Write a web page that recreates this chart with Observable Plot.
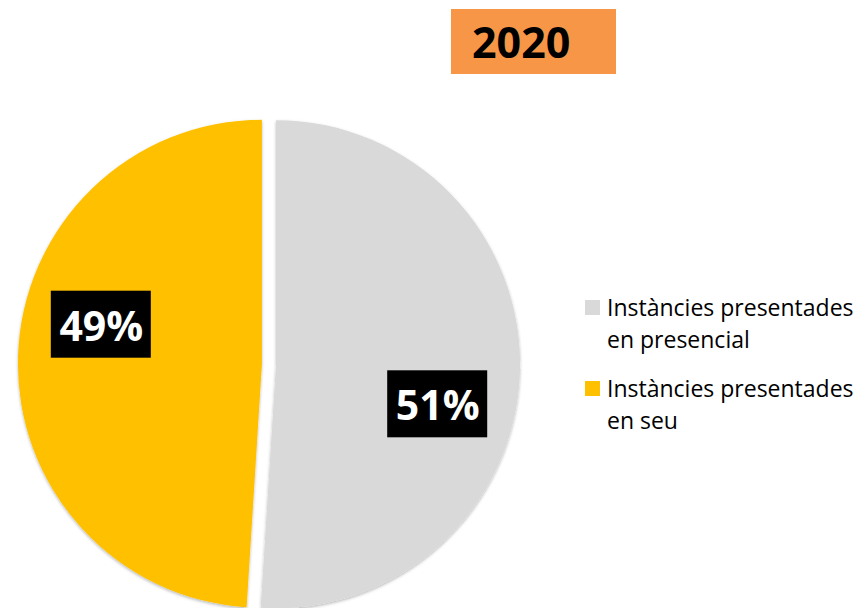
<!DOCTYPE html>
<html>
<head>
<meta charset="utf-8">
<script src="https://cdn.jsdelivr.net/npm/d3@7"></script>
<script src="https://cdn.jsdelivr.net/npm/@observablehq/plot@0.6"></script>
<style>
html, body { margin: 0; padding: 0; background: #fff; }
#wrap { position: relative; width: 856px; height: 608px; overflow: hidden; font-family: "Open Sans", sans-serif; }
#title { position: absolute; left: 451px; top: 9px; width: 165px; height: 65px; background: #f79646;
  box-sizing: border-box; padding-left: 21px; font-weight: 700; font-size: 43px; line-height: 65px; color: #000; z-index: 2; }
</style>
</head>
<body>
<div id="wrap"><div id="title"></div></div>
<script>
// ---- data ----
const title = "2020";
const categories = ["Instàncies presentades en presencial", "Instàncies presentades en seu"];
const values = [51, 49];
const labels = ["51%", "49%"];
const colors = ["#d9d9d9", "#ffc000"];

// ---- styling constants ----
const explode = 0.029;     // slice offset (data units, radius = 1)
const labelRadius = 0.68;  // label distance from centre
const labelRotate = 12 * Math.PI / 180; // label rotation from slice bisector
const boxW = 100, boxH = 67;

const data = categories.map((c, i) => ({category: c, value: values[i], label: labels[i]}));
const arcs = d3.pie().value(d => d.value).sort(null)(data);
arcs.forEach(a => {
  const mid = (a.startAngle + a.endAngle) / 2;
  a.mid = mid;
  a.data.lx = explode * Math.sin(mid) + labelRadius * Math.sin(mid + labelRotate);
  a.data.ly = explode * Math.cos(mid) + labelRadius * Math.cos(mid + labelRotate);
});

const colorScale = Plot.scale({color: {type: "ordinal", domain: categories, range: colors}});

function pieMark(index, scales) {
  const cx = scales.x(0), cy = scales.y(0), r = Math.abs(scales.x(1) - scales.x(0));
  const color = scales.color ?? colorScale.apply;
  const g = d3.create("svg:g");
  const f = g.append("defs").append("filter").attr("id", "sh")
    .attr("x", "-10%").attr("y", "-10%").attr("width", "120%").attr("height", "120%");
  f.append("feDropShadow").attr("dx", 0).attr("dy", 1.5).attr("stdDeviation", 1.5)
    .attr("flood-color", "#000").attr("flood-opacity", 0.28);
  const arc = d3.arc().innerRadius(0).outerRadius(r);
  for (const a of arcs) {
    const dx = explode * r * Math.sin(a.mid), dy = -explode * r * Math.cos(a.mid);
    g.append("path")
      .attr("transform", `translate(${cx + dx},${cy + dy})`)
      .attr("d", arc(a))
      .attr("fill", color(a.data.category))
      .attr("filter", "url(#sh)");
  }
  return g.node();
}

function boxMark(index, scales) {
  const g = d3.create("svg:g");
  for (const d of data) {
    g.append("rect")
      .attr("x", scales.x(d.lx) - boxW / 2).attr("y", scales.y(d.ly) - boxH / 2)
      .attr("width", boxW).attr("height", boxH).attr("fill", "#000");
  }
  return g.node();
}

function wrap(text, maxChars) {
  const words = text.split(" "), lines = [];
  let cur = "";
  for (const w of words) {
    const t = cur ? cur + " " + w : w;
    if (t.length > maxChars && cur) { lines.push(cur); cur = w; } else cur = t;
  }
  if (cur) lines.push(cur);
  return lines;
}

function legendMark(index, scales) {
  const color = scales.color ?? colorScale.apply;
  const g = d3.create("svg:g")
    .attr("font-family", "'Open Sans', sans-serif")
    .attr("font-size", 23)
    .attr("text-anchor", "start");
  categories.forEach((c, i) => {
    const y0 = 300 + i * 81;
    g.append("rect").attr("x", 585).attr("y", y0).attr("width", 15).attr("height", 15).attr("fill", color(c));
    wrap(c, 22).forEach((line, j) => {
      g.append("text").attr("x", 607).attr("y", y0 + 16 + j * 32)
        .attr("text-anchor", "start").attr("fill", "#000").text(line);
    });
  });
  return g.node();
}

document.getElementById("title").textContent = title;

const chart = Plot.plot({
  width: 856,
  height: 608,
  marginLeft: 25, marginRight: 343, marginTop: 120, marginBottom: 0,
  x: {domain: [-1, 1], axis: null},
  y: {domain: [-1, 1], axis: null},
  style: {background: "white", fontFamily: "'Open Sans', sans-serif", overflow: "visible"},
  marks: [
    pieMark,
    boxMark,
    Plot.text(data, {x: "lx", y: "ly", text: "label", fill: "white", fontSize: 41, fontWeight: 700, dy: 3}),
    legendMark
  ]
});
document.getElementById("wrap").appendChild(chart);
chart.style.position = "absolute";
chart.style.left = "0";
chart.style.top = "0";
</script>
</body>
</html>
